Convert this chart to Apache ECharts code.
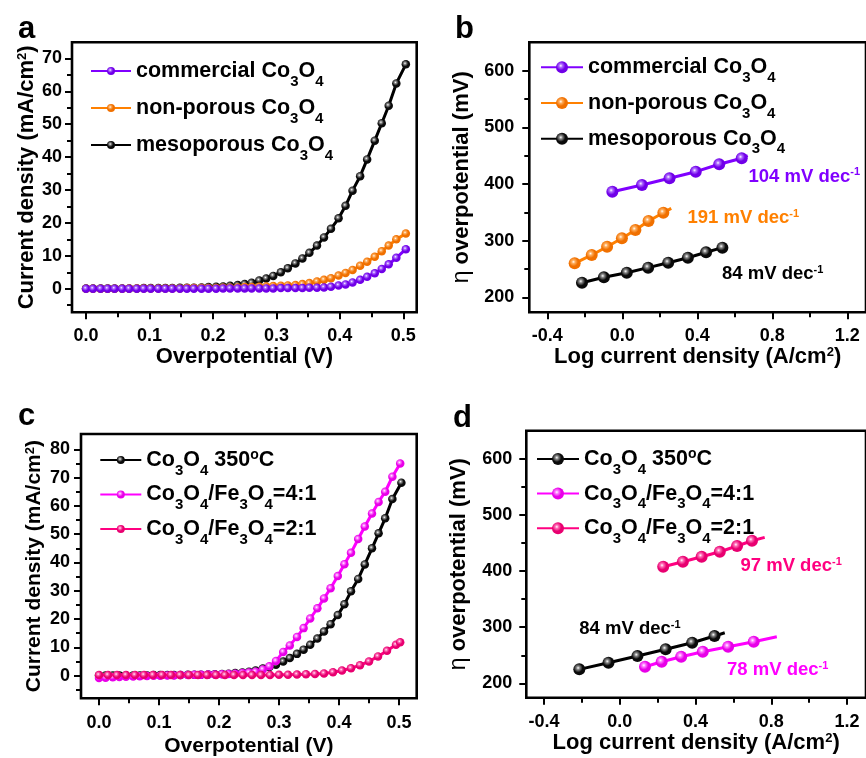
<!DOCTYPE html>
<html><head><meta charset="utf-8">
<script src="https://cdn.jsdelivr.net/npm/echarts@6/dist/echarts.min.js"></script>
<style>html,body{margin:0;padding:0;background:#fff}#c{width:866px;height:758px}</style>
</head><body><div id="c"></div>
<script>
// ---------- DATA ----------
// Panel a / c : LSV curves (Overpotential V, current density mA/cm2)
const lsvX = [0.000,0.011,0.023,0.034,0.045,0.057,0.068,0.080,0.091,0.102,0.114,0.125,0.136,0.148,0.159,0.170,0.182,0.193,0.205,0.216,0.227,0.239,0.250,0.261,0.273,0.284,0.295,0.307,0.318,0.330,0.341,0.352,0.364,0.375,0.386,0.398,0.409,0.420,0.432,0.443,0.455,0.466,0.477,0.489,0.504];
const lsvCommercial = [0.0,0.0,0.0,0.0,0.0,0.0,0.0,0.0,0.0,0.0,0.0,0.0,0.0,0.0,0.0,0.0,0.0,0.0,0.0,0.1,0.1,0.1,0.1,0.1,0.1,0.1,0.1,0.2,0.2,0.2,0.2,0.3,0.3,0.4,0.6,1.0,1.3,1.9,2.7,3.6,4.7,6.0,7.4,9.4,12.0];
const lsvNonporous = [0.0,0.0,0.0,0.0,0.0,0.0,0.1,0.1,0.1,0.1,0.1,0.1,0.1,0.1,0.2,0.2,0.2,0.2,0.2,0.3,0.3,0.4,0.5,0.5,0.6,0.7,0.8,0.9,1.0,1.1,1.4,1.7,2.2,2.7,3.2,4.0,4.8,5.7,7.0,8.2,9.7,11.4,13.1,15.0,16.8];
const lsvMesoporous = [0.1,0.1,0.1,0.1,0.1,0.1,0.1,0.1,0.2,0.2,0.2,0.2,0.2,0.3,0.3,0.3,0.4,0.5,0.6,0.7,0.9,1.1,1.4,1.8,2.5,3.1,3.9,5.0,6.2,7.7,9.2,10.9,13.1,15.6,18.2,21.4,25.2,29.8,34.2,39.3,45.0,50.3,55.6,62.4,68.2];
const lsvFe41X = [0.000,0.011,0.023,0.034,0.045,0.057,0.068,0.080,0.091,0.102,0.114,0.125,0.136,0.148,0.159,0.170,0.182,0.193,0.205,0.216,0.227,0.239,0.250,0.261,0.273,0.284,0.295,0.307,0.318,0.330,0.341,0.352,0.364,0.375,0.386,0.398,0.409,0.420,0.432,0.443,0.455,0.466,0.477,0.489,0.502];
const lsvFe41 = [-0.8,-0.7,-0.6,-0.5,-0.4,-0.3,-0.2,-0.1,0.0,0.0,0.1,0.1,0.2,0.2,0.3,0.3,0.4,0.4,0.5,0.6,0.7,0.9,1.1,1.4,2.2,3.3,5.2,8.4,10.7,13.7,16.8,20.2,23.8,27.3,30.9,35.2,39.4,43.4,48.3,52.7,57.3,61.4,65.0,70.3,75.0];
const lsvFe21X = [0.000,0.015,0.030,0.045,0.060,0.075,0.090,0.105,0.120,0.135,0.150,0.165,0.180,0.195,0.210,0.225,0.240,0.255,0.270,0.285,0.300,0.315,0.330,0.345,0.360,0.375,0.390,0.405,0.420,0.435,0.450,0.465,0.480,0.495,0.502];
const lsvFe21 = [0.2,0.2,0.2,0.2,0.2,0.2,0.2,0.2,0.2,0.2,0.2,0.2,0.2,0.2,0.2,0.2,0.2,0.2,0.2,0.2,0.3,0.3,0.4,0.5,0.6,0.8,1.2,1.8,2.6,3.7,5.0,6.8,8.8,10.9,11.8];

// Panel b / d : Tafel plots [log j, overpotential mV]; *End = end of the fit line
const tafelCommercial = [[-0.053,386.4],[0.105,398.2],[0.252,410.0],[0.392,421.7],[0.517,434.8],[0.637,445.4]];
const tafelCommercialEnd = [0.669,450.0];
const tafelNonporous = [[-0.254,260.0],[-0.163,274.7],[-0.081,289.3],[-0.002,304.1],[0.070,318.8],[0.140,334.7],[0.219,349.3]];
const tafelNonporousEnd = [0.261,357.0];
const tafelMesoporous = [[-0.215,225.8],[-0.098,235.3],[0.024,243.4],[0.138,252.3],[0.245,261.1],[0.350,269.9],[0.447,279.4],[0.534,287.6]];
const tafel350 = [[-0.214,224.9],[-0.060,236.7],[0.093,248.6],[0.242,260.6],[0.382,272.3],[0.500,284.2]];
const tafel350End = [0.554,290.0];
const tafelFe41 = [[0.133,229.6],[0.221,238.5],[0.324,247.4],[0.438,256.3],[0.572,265.2],[0.707,274.1]];
const tafelFe41End = [0.829,283.0];
const tafelFe21 = [[0.229,407.7],[0.333,416.6],[0.432,425.5],[0.528,434.4],[0.619,444.6],[0.698,454.0]];
const tafelFe21End = [0.765,460.0];

// Slope labels: [value, anchor x, anchor y]
const slopesB = [['104',0.673,412.9],['191',0.348,340.0],['84',0.532,241.0]];
const slopesD = [['97',0.637,408.9],['84',-0.214,296.7],['78',0.566,223.7]];

// Ticks
const lsvXMajor = [0,0.1,0.2,0.3,0.4,0.5];
const lsvXMinor = [0.05,0.15,0.25,0.35,0.45];
const lsvAYMajor = [0,10,20,30,40,50,60,70];
const lsvAYMinor = [-5,5,15,25,35,45,55,65];
const lsvCYMajor = [0,10,20,30,40,50,60,70,80];
const lsvCYMinor = [-5,5,15,25,35,45,55,65,75];
const tafXMajor = [-0.4,0,0.4,0.8,1.2];
const tafXMinor = [-0.2,0.2,0.6,1.0];
const tafYMajor = [200,300,400,500,600];
const tafYMinor = [250,350,450,550];

// ---------- STYLE / LAYOUT ----------
const FONT = '"Liberation Sans", Arial, Helvetica, sans-serif';
const COL = {black:'#000000', purple:'#8000FF', orange:'#FF8000', magenta:'#FF00FF', pink:'#FF0080'};
const LIGHT = {black:'#8a8a8a', purple:'#b070ff', orange:'#ffb060', magenta:'#ff80ff', pink:'#ff70b8'};
const BASE = {black:'#0a0a0a', purple:'#7000e8', orange:'#f07000', magenta:'#e800e8', pink:'#e80070'};

function sphere(k){
  return {type:'radial', x:0.4, y:0.38, r:0.62, colorStops:[
    {offset:0,color:'#ffffff'},{offset:0.22,color:LIGHT[k]},{offset:0.6,color:BASE[k]},{offset:1,color:BASE[k]}]};
}
const pairs = (xs, ys) => xs.map((x,i)=>[x, ys[i]]);

const grids = [
  {left:72, top:42.3, width:344.7, height:270, xr:[-0.0221,0.5211], yr:[-7.17,74.9]},
  {left:529.3, top:42.3, width:341.8, height:270, xr:[-0.496,1.3], yr:[173.5,650.1]},
  {left:81, top:434, width:335.7, height:264.3, xr:[-0.03,0.5295], yr:[-8.0,85.4]},
  {left:526.3, top:430.7, width:341.4, height:267, xr:[-0.494,1.3], yr:[174.4,650]}
];

const tickLine = {color:'#000', width:2};
function nameStyle(fs){
  return {fontSize:fs, fontWeight:'bold', fontFamily:FONT, color:'#000',
    rich:{
      p:{fontSize:13, fontWeight:'bold', fontFamily:FONT, color:'#000', verticalAlign:'top'},
      g:{fontSize:fs+1, fontWeight:'normal', fontFamily:FONT, color:'#000'}
    }};
}

const xAxes = [], yAxes = [];
const noLine = {show:false, onZero:false};
function addAxes(gi, xMaj, xMin, yMaj, yMin, xFmt, xMargin, yMargin, xName, yName, xGap, yGap, fs){
  const g = grids[gi];
  const lab = {fontSize:18, fontWeight:'bold', fontFamily:FONT, color:'#000'};
  xAxes.push({type:'value', gridIndex:gi, position:'bottom', offset:0, min:g.xr[0], max:g.xr[1],
    axisLine:noLine, splitLine:{show:false},
    axisTick:{show:true, customValues:xMaj, length:7, lineStyle:tickLine},
    axisLabel:Object.assign({customValues:xMaj, margin:xMargin, formatter:xFmt}, lab),
    name:xName, nameLocation:'middle', nameGap:xGap, nameTextStyle:nameStyle(fs)});
  xAxes.push({type:'value', gridIndex:gi, position:'bottom', offset:0, min:g.xr[0], max:g.xr[1],
    axisLine:noLine, splitLine:{show:false}, axisLabel:{show:false},
    axisTick:{show:true, customValues:xMin, length:5, lineStyle:tickLine}});
  yAxes.push({type:'value', gridIndex:gi, position:'left', offset:0, min:g.yr[0], max:g.yr[1],
    axisLine:noLine, splitLine:{show:false},
    axisTick:{show:true, customValues:yMaj, length:7, lineStyle:tickLine},
    axisLabel:Object.assign({customValues:yMaj, margin:yMargin, formatter:v=>String(Math.round(v))}, lab),
    name:yName, nameLocation:'middle', nameGap:yGap, nameTextStyle:nameStyle(fs)});
  yAxes.push({type:'value', gridIndex:gi, position:'left', offset:0, min:g.yr[0], max:g.yr[1],
    axisLine:noLine, splitLine:{show:false}, axisLabel:{show:false},
    axisTick:{show:true, customValues:yMin, length:5, lineStyle:tickLine}});
}
const f1 = v => v.toFixed(1);
addAxes(0, lsvXMajor, lsvXMinor, lsvAYMajor, lsvAYMinor, f1, 15, 10, 'Overpotential (V)', 'Current density (mA/cm{p|2})', 32, 33, 22);
addAxes(1, tafXMajor, tafXMinor, tafYMajor, tafYMinor, f1, 15, 15, 'Log current density (A/cm{p|2})', '{g|η} overpotential (mV)', 32, 56, 22);
addAxes(2, lsvXMajor, lsvXMinor, lsvCYMajor, lsvCYMinor, f1, 16, 11, 'Overpotential (V)', 'Current density (mA/cm{p|2})', 37, 36, 21);
addAxes(3, tafXMajor, tafXMinor, tafYMajor, tafYMinor, f1, 15, 14, 'Log current density (A/cm{p|2})', '{g|η} overpotential (mV)', 33, 56, 22);

function ser(name, gi, data, k, size, width, z){
  return {type:'line', name, xAxisIndex:gi*2, yAxisIndex:gi*2, data, symbol:'circle', symbolSize:size,
    showSymbol:true, showAllSymbol:true, z:z||2, animation:false, emphasis:{disabled:true},
    lineStyle:{color:COL[k], width}, itemStyle:{color:sphere(k)}};
}
function withEnd(pts, end){
  const d = pts.map(p=>({value:p}));
  if (end) d.push({value:end, symbol:'none'});
  return d;
}
const series = [
  ser('a3', 0, pairs(lsvX, lsvMesoporous), 'black', 8.5, 3, 2),
  ser('a2', 0, pairs(lsvX, lsvNonporous), 'orange', 8.5, 3, 3),
  ser('a1', 0, pairs(lsvX, lsvCommercial), 'purple', 8.5, 3, 4),
  ser('b1', 1, withEnd(tafelCommercial, tafelCommercialEnd), 'purple', 12, 3),
  ser('b2', 1, withEnd(tafelNonporous, tafelNonporousEnd), 'orange', 12, 3),
  ser('b3', 1, withEnd(tafelMesoporous, null), 'black', 12, 3),
  ser('c1', 2, pairs(lsvX, lsvMesoporous), 'black', 8.5, 3, 2),
  ser('c2', 2, pairs(lsvFe41X, lsvFe41), 'magenta', 8.5, 3, 3),
  ser('c3', 2, pairs(lsvFe21X, lsvFe21), 'pink', 8.5, 3, 4),
  ser('d1', 3, withEnd(tafel350, tafel350End), 'black', 12, 3),
  ser('d2', 3, withEnd(tafelFe41, tafelFe41End), 'magenta', 12, 3),
  ser('d3', 3, withEnd(tafelFe21, tafelFe21End), 'pink', 12, 3)
];

const CO = '{n|Co}{s|3}{n|O}{s|4}';
const legendText = {
  a1:'{n|commercial Co}{s|3}{n|O}{s|4}', a2:'{n|non-porous Co}{s|3}{n|O}{s|4}', a3:'{n|mesoporous Co}{s|3}{n|O}{s|4}',
  b1:'{n|commercial Co}{s|3}{n|O}{s|4}', b2:'{n|non-porous Co}{s|3}{n|O}{s|4}', b3:'{n|mesoporous Co}{s|3}{n|O}{s|4}',
  c1:CO+'{n| 350}{p|o}{n|C}', c2:CO+'{n|/Fe}{s|3}{n|O}{s|4}{n|=4:1}', c3:CO+'{n|/Fe}{s|3}{n|O}{s|4}{n|=2:1}',
  d1:CO+'{n| 350}{p|o}{n|C}', d2:CO+'{n|/Fe}{s|3}{n|O}{s|4}{n|=4:1}', d3:CO+'{n|/Fe}{s|3}{n|O}{s|4}{n|=2:1}'
};
const legRich = {
  n:{fontSize:21.5, fontWeight:'bold', fontFamily:FONT, color:'#000', lineHeight:24},
  s:{fontSize:15, fontWeight:'bold', fontFamily:FONT, color:'#000', lineHeight:2, verticalAlign:'top', padding:[15,0,0,0]},
  p:{fontSize:14, fontWeight:'bold', fontFamily:FONT, color:'#000', lineHeight:2, verticalAlign:'top'}
};
function leg(names, left, top, iw, ih, gap){
  return {data:names, orient:'vertical', left, top, itemWidth:iw, itemHeight:ih, itemGap:gap,
    selectedMode:false, padding:0, formatter:n=>legendText[n],
    textStyle:{fontSize:21.5, fontWeight:'bold', fontFamily:FONT, color:'#000', rich:legRich}};
}

const letters = [['a',18,30],['b',455,30],['c',18,417],['d',453,419]];

const option = {
  backgroundColor:'#fff', animation:false,
  textStyle:{fontFamily:FONT},
  grid: grids.map(g=>({left:g.left, top:g.top, width:g.width, height:g.height, show:true,
    borderColor:'#000', borderWidth:2.6, backgroundColor:'transparent', containLabel:false})),
  xAxis:xAxes, yAxis:yAxes,
  legend:[
    leg(['a1','a2','a3'], 90, 59, 40, 10, 7),
    leg(['b1','b2','b3'], 540, 55.2, 42, 15, 5.8),
    leg(['c1','c2','c3'], 99.3, 448, 41, 10, 4.5),
    leg(['d1','d2','d3'], 536, 447, 42, 15, 4.6)
  ],
  series,
  graphic: letters.map(([t,x,y])=>({type:'text', left:x, top:y-16,
    style:{text:t, fontSize:31, fontWeight:'bold', fontFamily:FONT, fill:'#000'}}))
};
const chart = echarts.init(document.getElementById('c'), null, {renderer:'canvas'});
chart.setOption(option);

// slope annotations positioned through the axes' scales
const slopeCols = {b:[COL.purple, COL.orange, COL.black], d:[COL.pink, COL.black, COL.magenta]};
const g2 = [];
function addSlopes(list, gi, cols){
  list.forEach(([v,x,y],i)=>{
    const p = chart.convertToPixel({xAxisIndex:gi*2, yAxisIndex:gi*2}, [x,y]);
    g2.push({type:'text', x:p[0], y:p[1], z:10, style:{
      text:'{a|'+v+' mV dec}{s|-1}', align:'left', verticalAlign:'middle',
      rich:{a:{fontSize:18.5, fontWeight:'bold', fontFamily:FONT, fill:cols[i], lineHeight:20},
            s:{fontSize:11, fontWeight:'bold', fontFamily:FONT, fill:cols[i], lineHeight:2, verticalAlign:'top'}}}});
  });
}
addSlopes(slopesB, 1, slopeCols.b);
addSlopes(slopesD, 3, slopeCols.d);
chart.setOption({graphic: option.graphic.concat(g2)}, {replaceMerge:['graphic']});
</script></body></html>
